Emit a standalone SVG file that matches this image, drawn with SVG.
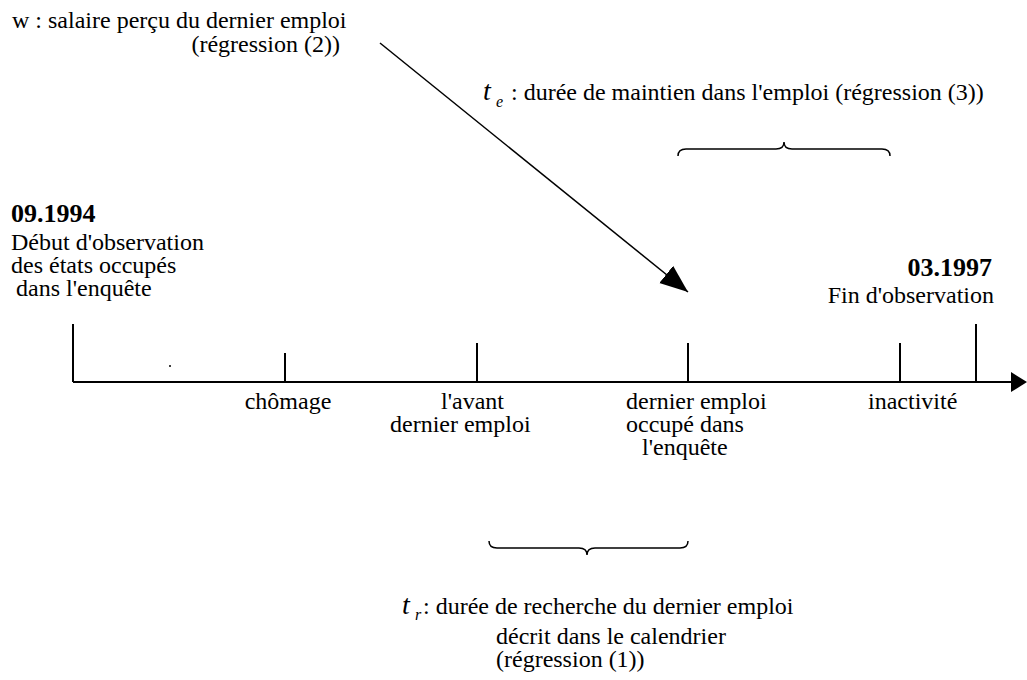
<svg xmlns="http://www.w3.org/2000/svg" width="1027" height="680" viewBox="0 0 1027 680">
<style>
.t{font-family:'Liberation Serif','Tinos','Times New Roman','DejaVu Serif',serif;font-size:24px;fill:#000}
.b{font-weight:bold;font-size:26px}
.it{font-style:italic;font-size:28px}
.sub{font-style:italic;font-size:16px}
.ln{stroke:#000;stroke-width:2;fill:none}
.thin{stroke:#000;stroke-width:1.5;fill:none}
</style>
<defs>
<marker id="ah" markerUnits="userSpaceOnUse" markerWidth="30" markerHeight="24" refX="28" refY="11" orient="auto"><path d="M0,0 L28,11 L0,22 z" fill="#000"/></marker>
</defs>
<rect width="1027" height="680" fill="#fff"/>
<g id="connectors">
<line class="thin" x1="380" y1="43" x2="688" y2="292" marker-end="url(#ah)"/>
<line class="ln" x1="73" y1="382" x2="1012" y2="382"/>
<path d="M1011,372 L1027,382 L1011,392 z" fill="#000"/>
<line class="ln" x1="73" y1="324" x2="73" y2="382"/>
<line class="ln" x1="285" y1="353" x2="285" y2="382"/>
<line class="ln" x1="477" y1="343" x2="477" y2="382"/>
<line class="ln" x1="688" y1="343" x2="688" y2="382"/>
<line class="ln" x1="900" y1="343" x2="900" y2="382"/>
<line class="ln" x1="976" y1="324" x2="976" y2="382"/>
<circle cx="170" cy="366" r="1" fill="#000"/>
<path class="thin" d="M678,156 Q678,149 686,149 L776,149 Q784,149 784,142 Q784,149 792,149 L882,149 Q890,149 890,156"/>
<path class="thin" d="M489,541 Q489,548 497,548 L579,548 Q587,548 587,555 Q587,548 595,548 L680,548 Q688,548 688,541"/>
</g>
<g id="wage" class="t" font-family="Liberation Serif, serif">
<text x="12" y="28">w : salaire perçu du dernier emploi</text>
<text x="340" y="52" text-anchor="end">(régression (2))</text>
</g>
<g id="te" class="t" font-family="Liberation Serif, serif">
<text class="it" x="483" y="100">t</text><text class="sub" x="496" y="107">e</text>
<text x="511" y="100">: durée de maintien dans l'emploi (régression (3))</text>
</g>
<g id="start" class="t" font-family="Liberation Serif, serif">
<text class="b" x="11" y="222">09.1994</text>
<text x="11" y="250">Début d'observation</text>
<text x="11" y="273">des états occupés</text>
<text x="16" y="296">dans l'enquête</text>
</g>
<g id="end" class="t" font-family="Liberation Serif, serif">
<text class="b" x="992" y="276" text-anchor="end">03.1997</text>
<text x="994" y="303" text-anchor="end">Fin d'observation</text>
</g>
<g id="chomage" class="t" font-family="Liberation Serif, serif"><text x="288" y="409" text-anchor="middle">chômage</text></g>
<g id="avant" class="t" font-family="Liberation Serif, serif">
<text x="441" y="409">l'avant</text>
<text x="390" y="432">dernier emploi</text>
</g>
<g id="dernier" class="t" font-family="Liberation Serif, serif">
<text x="626" y="409">dernier emploi</text>
<text x="626" y="432">occupé dans</text>
<text x="642" y="455">l'enquête</text>
</g>
<g id="inactivite" class="t" font-family="Liberation Serif, serif"><text x="868" y="409">inactivité</text></g>
<g id="tr" class="t" font-family="Liberation Serif, serif">
<text class="it" x="402" y="614">t</text><text class="sub" x="415" y="620">r</text>
<text x="423" y="614">: durée de recherche du dernier emploi</text>
<text x="496" y="644">décrit dans le calendrier</text>
<text x="496" y="667">(régression (1))</text>
</g>
</svg>
